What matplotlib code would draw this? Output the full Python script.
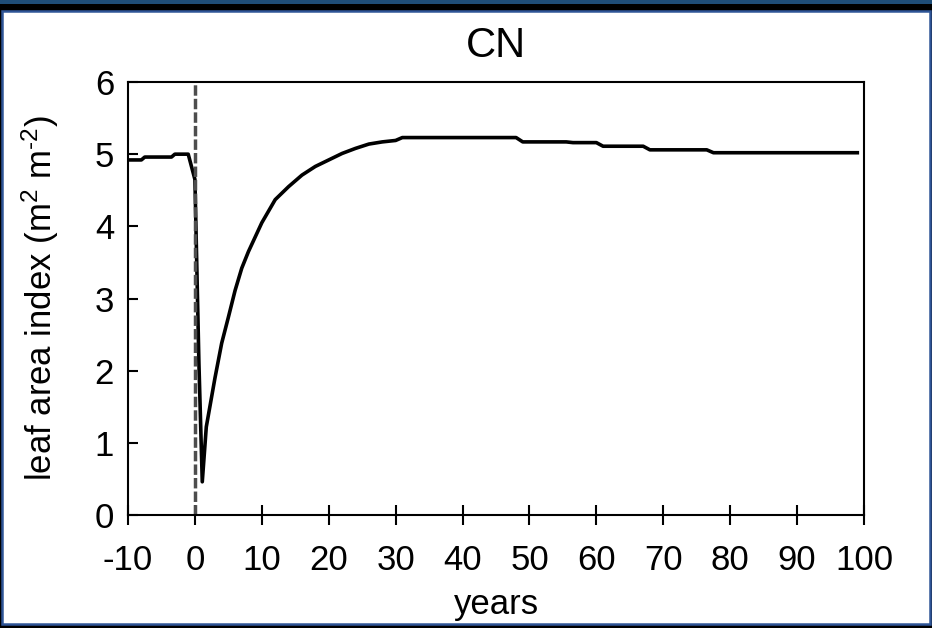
import matplotlib
matplotlib.use("Agg")
import matplotlib.pyplot as plt
from matplotlib.patches import Rectangle

# leaf area index after disturbance at year 0
years = [-10, -8, -7.5, -3.5, -3, -1, 0, 0.6, 1.1, 1.7, 3, 4, 5, 6, 7, 8,
         10, 12, 14, 16, 18, 20, 22, 24, 26, 28, 30, 31, 48, 49, 55.5, 56.5,
         60, 61, 67, 68, 76.5, 77.5, 99]
lai = [4.92, 4.92, 4.96, 4.96, 5.0, 5.0, 4.65, 2.1, 0.46, 1.22, 1.9, 2.38,
       2.74, 3.11, 3.42, 3.65, 4.05, 4.37, 4.55, 4.71, 4.83, 4.92, 5.01,
       5.08, 5.14, 5.17, 5.19, 5.23, 5.23, 5.17, 5.17, 5.16, 5.16, 5.11,
       5.11, 5.06, 5.06, 5.02, 5.02]

xticks = list(range(-10, 101, 10))
yticks = list(range(0, 7))

plt.rcParams['font.family'] = ['Liberation Sans', 'DejaVu Sans']
plt.rcParams['mathtext.fontset'] = 'custom'
plt.rcParams['mathtext.rm'] = 'Liberation Sans'
plt.rcParams['mathtext.it'] = 'Liberation Sans'
plt.rcParams['axes.unicode_minus'] = False

W, H = 932, 628
fig = plt.figure(figsize=(W / 100, H / 100), dpi=100, facecolor='black')

# slide-style frame, kept behind the axes
fig.patches.append(Rectangle((0, 1 - 4 / H), 1, 4 / H, transform=fig.transFigure,
                             facecolor='#1F4E79', edgecolor='none', zorder=-2))
fig.patches.append(Rectangle((1.5 / W, 4 / H), (W - 3.5) / W, (H - 14.5) / H,
                             transform=fig.transFigure, facecolor='white',
                             edgecolor='#2F5597', linewidth=1.8, zorder=-1))

ax = fig.add_axes([128 / W, 1 - 515 / H, (864 - 128) / W, (515 - 82) / H])
ax.set_facecolor('none')

ax.plot(years, lai, color='black', linewidth=2.6, solid_joinstyle='round')
ax.plot([0, 0], [0, 6], color='#4d4d4d', linewidth=2.5, linestyle=(0, (3.0, 0.9)))

ax.set_xlim(-10, 100)
ax.set_ylim(0, 6)
ax.set_xticks(xticks)
ax.set_yticks(yticks)
ax.tick_params(axis='x', direction='inout', length=14, width=1.5, labelsize=25, pad=14)
ax.tick_params(axis='y', direction='in', length=7, width=1.5, labelsize=25, pad=10)
for s in ax.spines.values():
    s.set_linewidth(1.5)

ax.set_title('CN', fontsize=30, pad=18)
ax.set_xlabel('years', fontsize=25, labelpad=8)
ax.set_ylabel('leaf area index (m$^{2}$ m$^{\u2010 2}$)', fontsize=25, labelpad=24)

fig.savefig('out.png', dpi=100, facecolor=fig.get_facecolor())
